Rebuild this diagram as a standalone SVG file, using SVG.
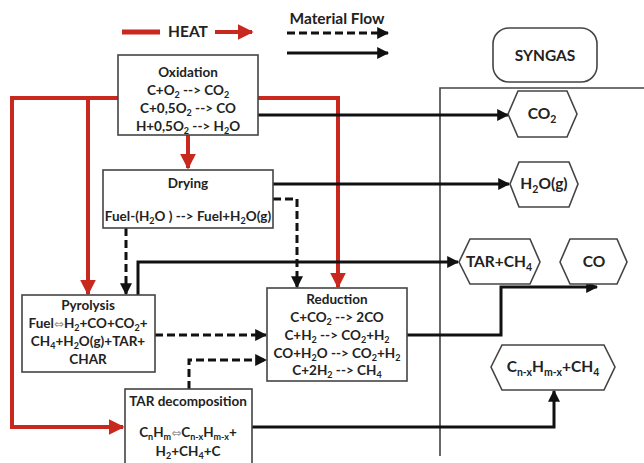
<svg xmlns="http://www.w3.org/2000/svg" width="644" height="463" viewBox="0 0 644 463">
<defs>
<style>
text{font-family:Lato,"Liberation Sans","DejaVu Sans",sans-serif;font-weight:bold;font-size:13.5px;fill:#222;text-anchor:middle}
.box{fill:#fff;stroke:#444;stroke-width:1.6}
.hex{fill:#fff;stroke:#444;stroke-width:1.6}
.heat{fill:none;stroke:#c8281e;stroke-width:4}
.mat{fill:none;stroke:#111;stroke-width:3}
.dash{fill:none;stroke:#111;stroke-width:3;stroke-dasharray:8,4}
.sub{font-size:9px}
.eq{font-family:"DejaVu Sans",sans-serif;font-weight:normal;fill:#999;font-size:12px}
.hl{font-size:15.5px}
.hs{font-size:10.5px}
</style>
<marker id="ar" viewBox="0 0 10 10" refX="9" refY="5" markerWidth="4" markerHeight="4" orient="auto" markerUnits="strokeWidth"><path d="M0,0 L10,5 L0,10 z" fill="#c8281e"/></marker>
<marker id="ab" viewBox="0 0 10 10" refX="9" refY="5" markerWidth="4" markerHeight="4" orient="auto" markerUnits="strokeWidth"><path d="M0,0 L10,5 L0,10 z" fill="#111"/></marker>
</defs>
<rect width="644" height="463" fill="#fff"/>

<g id="legend">
<line x1="122" y1="32" x2="160" y2="32" stroke="#c8281e" stroke-width="5"/>
<text x="188" y="37" style="font-size:15.5px">HEAT</text>
<line x1="215" y1="32" x2="252" y2="32" class="heat" stroke-width="5" marker-end="url(#ar)"/>
<text x="337" y="24" style="font-size:15.5px">Material Flow</text>
<line x1="287" y1="33" x2="388" y2="33" class="dash" marker-end="url(#ab)"/>
<line x1="287" y1="53" x2="388" y2="53" class="mat" marker-end="url(#ab)"/>
</g>

<g id="syngas-frame">
<path d="M650,88 L440,88 L440,456" fill="none" stroke="#444" stroke-width="1.6"/>
</g>

<g id="connectors">
<polyline class="heat" points="118,98 12,98 12,427 123,427" marker-end="url(#ar)"/>
<polyline class="heat" points="88,98 88,294" marker-end="url(#ar)"/>
<polyline class="heat" points="258,98 338,98 338,287" marker-end="url(#ar)"/>
<polyline class="heat" points="188,135 188,168" marker-end="url(#ar)"/>
<polyline class="mat" points="258,115 508,115" marker-end="url(#ab)"/>
<polyline class="mat" points="273,184 509,184" marker-end="url(#ab)"/>
<polyline class="mat" points="138,295 138,262 458,262" marker-end="url(#ab)"/>
<polyline class="mat" points="407,335 501,335 501,287 597,287" marker-end="url(#ab)"/>
<polyline class="mat" points="252,427 554,427 554,391" marker-end="url(#ab)"/>
<polyline class="dash" points="273,199 297,199 297,287" marker-end="url(#ab)"/>
<polyline class="dash" points="126,228 126,294" marker-end="url(#ab)"/>
<polyline class="dash" points="155,335 266,335" marker-end="url(#ab)"/>
<polyline class="dash" points="189,389 189,360 266,360" marker-end="url(#ab)"/>
</g>

<g id="oxidation">
<rect class="box" x="118" y="55" width="140" height="80"/>
<text x="188" y="77">Oxidation</text>
<text x="188" y="95">C+O<tspan class="sub" dy="3">2</tspan><tspan dy="-3"> --&gt; CO</tspan><tspan class="sub" dy="3">2</tspan></text>
<text x="188" y="113">C+0,5O<tspan class="sub" dy="3">2</tspan><tspan dy="-3"> --&gt; CO</tspan></text>
<text x="188" y="131">H+0,5O<tspan class="sub" dy="3">2</tspan><tspan dy="-3"> --&gt; H</tspan><tspan class="sub" dy="3">2</tspan><tspan dy="-3">O</tspan></text>
</g>

<g id="drying">
<rect class="box" x="103" y="170" width="170" height="58"/>
<text x="188" y="188">Drying</text>
<text x="188" y="221">Fuel-(H<tspan class="sub" dy="3">2</tspan><tspan dy="-3">O ) --&gt; Fuel+H</tspan><tspan class="sub" dy="3">2</tspan><tspan dy="-3">O(g)</tspan></text>
</g>

<g id="pyrolysis">
<rect class="box" x="22" y="295" width="133" height="77"/>
<text x="88" y="310">Pyrolysis</text>
<text x="88" y="328">Fuel<tspan class="eq">⇔</tspan>H<tspan class="sub" dy="3">2</tspan><tspan dy="-3">+CO+CO</tspan><tspan class="sub" dy="3">2</tspan><tspan dy="-3">+</tspan></text>
<text x="88" y="346">CH<tspan class="sub" dy="3">4</tspan><tspan dy="-3">+H</tspan><tspan class="sub" dy="3">2</tspan><tspan dy="-3">O(g)+TAR+</tspan></text>
<text x="88" y="364">CHAR</text>
</g>

<g id="reduction">
<rect class="box" x="267" y="288" width="140" height="93"/>
<text x="337" y="304">Reduction</text>
<text x="337" y="322">C+CO<tspan class="sub" dy="3">2</tspan><tspan dy="-3"> --&gt; 2CO</tspan></text>
<text x="337" y="340">C+H<tspan class="sub" dy="3">2</tspan><tspan dy="-3"> --&gt; CO</tspan><tspan class="sub" dy="3">2</tspan><tspan dy="-3">+H</tspan><tspan class="sub" dy="3">2</tspan></text>
<text x="337" y="358">CO+H<tspan class="sub" dy="3">2</tspan><tspan dy="-3">O --&gt; CO</tspan><tspan class="sub" dy="3">2</tspan><tspan dy="-3">+H</tspan><tspan class="sub" dy="3">2</tspan></text>
<text x="337" y="375">C+2H<tspan class="sub" dy="3">2</tspan><tspan dy="-3"> --&gt; CH</tspan><tspan class="sub" dy="3">4</tspan></text>
</g>

<g id="tar-decomposition">
<rect class="box" x="125" y="389" width="127" height="76"/>
<text x="188" y="406">TAR decomposition</text>
<text x="188" y="437">C<tspan class="sub" dy="2.5">n</tspan><tspan dy="-2.5">H</tspan><tspan class="sub" dy="2.5">m</tspan><tspan dy="-2.5" class="eq">⇔</tspan>C<tspan class="sub" dy="2.5">n-x</tspan><tspan dy="-2.5">H</tspan><tspan class="sub" dy="2.5">m-x</tspan><tspan dy="-2.5">+</tspan></text>
<text x="188" y="456">H<tspan class="sub" dy="2.5">2</tspan><tspan dy="-2.5">+CH</tspan><tspan class="sub" dy="2.5">4</tspan><tspan dy="-2.5">+C</tspan></text>
</g>

<g id="syngas">
<rect class="box" x="493" y="28" width="104" height="54" rx="16"/>
<text x="545" y="61" class="hl">SYNGAS</text>
</g>

<g id="co2">
<polygon class="hex" points="508,114 518,91 567,91 577,114 567,137 518,137"/>
<text x="542" y="119" class="hl">CO<tspan class="hs" dy="4">2</tspan></text>
</g>

<g id="h2o">
<polygon class="hex" points="510,184 519,162 569,162 578,184 569,207 519,207"/>
<text x="544" y="189" class="hl">H<tspan class="hs" dy="4">2</tspan><tspan dy="-4">O(g)</tspan></text>
</g>

<g id="tar-ch4">
<polygon class="hex" points="459,262 470,239 530,239 540,262 530,284 470,284"/>
<text x="499" y="267" class="hl">TAR+CH<tspan class="hs" dy="4">4</tspan></text>
</g>

<g id="co">
<polygon class="hex" points="560,262 570,239 617,239 627,262 617,284 570,284"/>
<text x="594" y="267" class="hl">CO</text>
</g>

<g id="cnhm-ch4">
<polygon class="hex" points="491,367 502,345 604,345 615,367 604,390 502,390"/>
<text x="553" y="372" class="hl">C<tspan class="hs" dy="4">n-x</tspan><tspan dy="-4">H</tspan><tspan class="hs" dy="4">m-x</tspan><tspan dy="-4">+CH</tspan><tspan class="hs" dy="4">4</tspan></text>
</g>
</svg>
